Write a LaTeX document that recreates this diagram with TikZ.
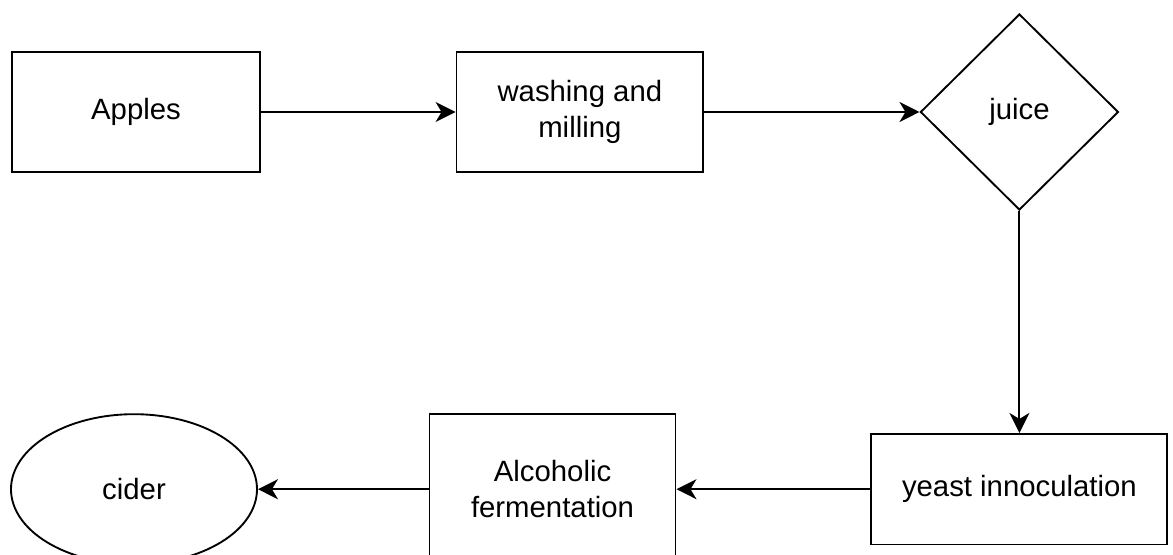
\documentclass[tikz,border=0pt]{standalone}
\usepackage{fontspec}
\setmainfont{Liberation Sans}
\usetikzlibrary{positioning,arrows.meta,shapes.geometric}

\begin{document}
\begin{tikzpicture}[
  font=\fontsize{22pt}{27pt}\selectfont,
  box/.style={draw, line width=1.4pt, align=center, inner sep=0pt},
  decision/.style={draw, diamond, line width=1.4pt, align=center, inner sep=0pt, minimum width=148.5pt, minimum height=147pt},
  terminal/.style={draw, ellipse, line width=1.4pt, align=center, inner sep=0pt},
  arr/.style={-{Stealth[length=15pt, width=15pt, inset=4.5pt]}, line width=1.4pt}
]
\useasboundingbox (0,0) rectangle (879.75pt,-416.25pt);
\node[box, minimum width=186pt, minimum height=90pt] (apples) at (102pt,-84pt) {Apples};
\node[box, minimum width=185pt, minimum height=90pt, right=146pt of apples] (wash) {washing and\\ milling};
\node[decision, right=161.5pt of wash] (juice) {juice};
\node[box, minimum width=222pt, minimum height=83pt, below=166.5pt of juice] (yeast) {yeast innoculation};
\node[box, minimum width=184.5pt, minimum height=112.5pt, left=145.5pt of yeast] (ferm) {Alcoholic\\ fermentation};
\node[terminal, minimum width=184.5pt, minimum height=112.5pt, left=128pt of ferm] (cider) {cider};
\draw[arr] (apples) -- (wash);
\draw[arr] (wash) -- (juice);
\draw[arr] (juice) -- (yeast);
\draw[arr] (yeast) -- (ferm);
\draw[arr] (ferm) -- (cider);
\end{tikzpicture}
\end{document}
